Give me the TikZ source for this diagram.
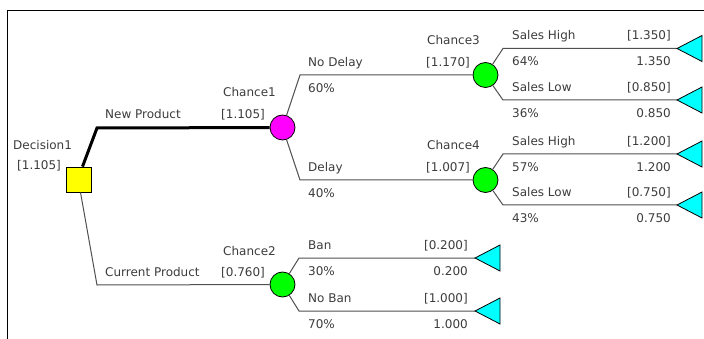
\documentclass[tikz,border=0pt]{standalone}
\usepackage{fontspec}
\setmainfont{DejaVu Sans}
\definecolor{txt}{HTML}{3C3C3C}
\definecolor{edgegray}{HTML}{505050}
\definecolor{chgreen}{HTML}{00FF00}
\definecolor{chmag}{HTML}{FF00FF}
\definecolor{termcyan}{HTML}{00FFFF}
\definecolor{decyellow}{HTML}{FFFF00}
\begin{document}
\begin{tikzpicture}[x=1pt,y=-1pt,
  lbl/.style={anchor=base west, inner sep=0pt, text=txt, font=\fontsize{12}{14}\selectfont},
  val/.style={anchor=base east, inner sep=0pt, text=txt, font=\fontsize{12}{14}\selectfont},
  chancenode/.style={circle, draw=black, line width=0.8pt, minimum size=25pt, inner sep=0pt},
  decnode/.style={rectangle, draw=black, line width=0.8pt, fill=decyellow, minimum size=25pt, inner sep=0pt},
  edge/.style={draw=edgegray, line width=1pt},
  thickedge/.style={draw=black, line width=3pt},
  termtri/.style={fill=termcyan, draw=black, line width=0.8pt, line join=miter}
]
\useasboundingbox (0,0) rectangle (704,339);
% frame
\draw[line width=1pt] (7,339) -- (7,11) -- (704,11);

% nodes
\node[decnode] (dec) at (78.5,179.5) {};
\node[chancenode, fill=chmag] (c1) at (282.5,127.5) {};
\node[chancenode, fill=chgreen] (c2) at (282.5,284.5) {};
\node[chancenode, fill=chgreen] (c3) at (485.5,75) {};
\node[chancenode, fill=chgreen] (c4) at (485.5,180) {};

% bend points
\coordinate (kd1) at (97,128);
\coordinate (kd2) at (97,285);
\coordinate (k11) at (300,75);
\coordinate (k12) at (300,180);
\coordinate (k31) at (503,48.5);
\coordinate (k32) at (503,100);
\coordinate (k41) at (503,154);
\coordinate (k42) at (503,205);
\coordinate (k21) at (299,258);
\coordinate (k22) at (299,311);

% terminal tips
\coordinate (t31) at (677,48.5);
\coordinate (t32) at (677,100);
\coordinate (t41) at (677,154);
\coordinate (t42) at (677,205);
\coordinate (t21) at (475,258);
\coordinate (t22) at (475,311);

% connectors
\draw[thickedge] ([xshift=4pt]dec.north) -- (kd1) -- (c1);
\draw[edge] ([xshift=2pt]dec.south) -- (kd2) -- (c2);
\draw[edge] (c1) -- (k11) -- (c3);
\draw[edge] (c1) -- (k12) -- (c4);
\draw[edge] (c3) -- (k31) -- (t31);
\draw[edge] (c3) -- (k32) -- (t32);
\draw[edge] (c4) -- (k41) -- (t41);
\draw[edge] (c4) -- (k42) -- (t42);
\draw[edge] (c2) -- (k21) -- (t21);
\draw[edge] (c2) -- (k22) -- (t22);

% terminal triangles
\foreach \t in {t31,t32,t41,t42,t21,t22}{
  \draw[termtri] (\t) -- ++(25,-13) -- ++(0,26) -- cycle;
}

% labels: decision
\node[lbl] (ldec) at (13,150) {Decision1};
\node[lbl] (vdec) at (17,170) {[1.105]};
% chance1 / chance2
\node[lbl] (lc1) at (223,97) {Chance1};
\node[lbl] (vc1) at (221,119) {[1.105]};
\node[lbl] (lnp) at (105,119) {New Product};
\node[lbl] (lc2) at (223,255) {Chance2};
\node[lbl] (vc2) at (221,276) {[0.760]};
\node[lbl] (lcp) at (105,276) {Current Product};
% chance3 / chance4
\node[lbl] (lc3) at (427,45) {Chance3};
\node[lbl] (vc3) at (426,67) {[1.170]};
\node[lbl] (lnd) at (308,67) {No Delay};
\node[lbl] (pnd) at (308,93) {60\%};
\node[lbl] (lc4) at (427,150) {Chance4};
\node[lbl] (vc4) at (426,172) {[1.007]};
\node[lbl] (ldl) at (308,172) {Delay};
\node[lbl] (pdl) at (308,198) {40\%};
% chance3 branches
\node[lbl] (l31) at (512,40) {Sales High};
\node[val] (v31) at (671,40) {[1.350]};
\node[lbl] (p31) at (512,66) {64\%};
\node[val] (e31) at (671,66) {1.350};
\node[lbl] (l32) at (512,92) {Sales Low};
\node[val] (v32) at (671,92) {[0.850]};
\node[lbl] (p32) at (512,118) {36\%};
\node[val] (e32) at (671,118) {0.850};
% chance4 branches
\node[lbl] (l41) at (512,145.5) {Sales High};
\node[val] (v41) at (671,145.5) {[1.200]};
\node[lbl] (p41) at (512,171.5) {57\%};
\node[val] (e41) at (671,171.5) {1.200};
\node[lbl] (l42) at (512,196.5) {Sales Low};
\node[val] (v42) at (671,196.5) {[0.750]};
\node[lbl] (p42) at (512,222.5) {43\%};
\node[val] (e42) at (671,222.5) {0.750};
% chance2 branches
\node[lbl] (l21) at (308,250) {Ban};
\node[val] (v21) at (468,250) {[0.200]};
\node[lbl] (p21) at (308,275) {30\%};
\node[val] (e21) at (468,275) {0.200};
\node[lbl] (l22) at (308,302) {No Ban};
\node[val] (v22) at (468,302) {[1.000]};
\node[lbl] (p22) at (308,328) {70\%};
\node[val] (e22) at (468,328) {1.000};
\end{tikzpicture}
\end{document}
